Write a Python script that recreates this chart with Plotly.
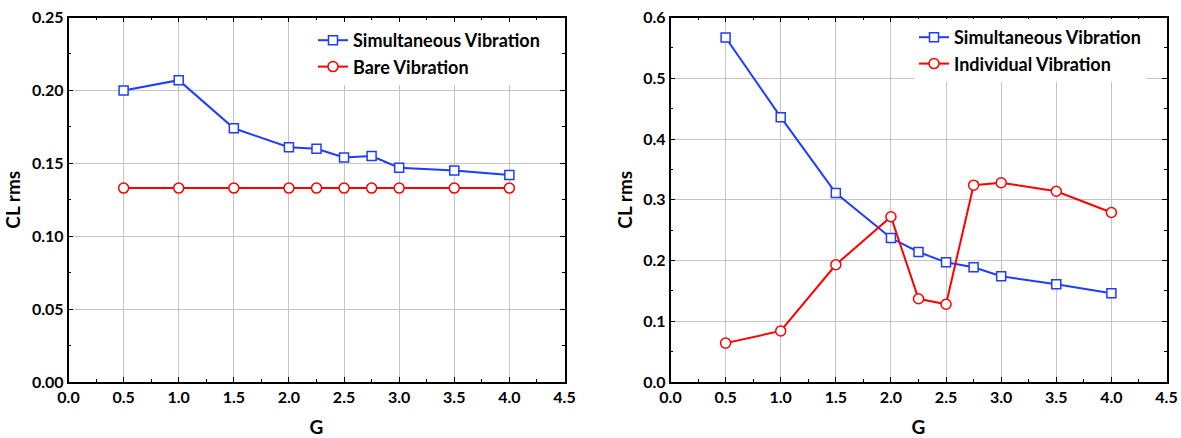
import plotly.graph_objects as go

# ---- data ----
g_values = [0.5, 1.0, 1.5, 2.0, 2.25, 2.5, 2.75, 3.0, 3.5, 4.0]

left_simultaneous = [0.200, 0.207, 0.174, 0.161, 0.160, 0.154, 0.155, 0.147, 0.145, 0.142]
left_bare = [0.133, 0.133, 0.133, 0.133, 0.133, 0.133, 0.133, 0.133, 0.133, 0.133]

right_simultaneous = [0.567, 0.436, 0.311, 0.237, 0.214, 0.197, 0.189, 0.174, 0.161, 0.146]
right_individual = [0.064, 0.084, 0.193, 0.272, 0.137, 0.128, 0.324, 0.328, 0.314, 0.279]

x_title = "G"
y_title = "CL rms"

BLUE = "#1f3cff"
RED = "#ff0000"
FONT = "Lato"
W, H = 1181, 438

fig = go.Figure()

def add_pair(x, ys, names, xa, ya, legend):
    blue, red = ys
    fig.add_trace(go.Scatter(
        x=x, y=blue, name=names[0], mode="lines+markers", xaxis=xa, yaxis=ya,
        legend=legend, legendgroup=legend + "a",
        line=dict(color=BLUE, width=2),
        marker=dict(symbol="square", size=9, color="white",
                    line=dict(color=BLUE, width=1.5))))
    fig.add_trace(go.Scatter(
        x=x, y=red, name=names[1], mode="lines+markers", xaxis=xa, yaxis=ya,
        legend=legend, legendgroup=legend + "b",
        line=dict(color=RED, width=2),
        marker=dict(symbol="circle", size=10, color="white",
                    line=dict(color=RED, width=1.5))))

add_pair(g_values, (left_simultaneous, left_bare),
         ("Simultaneous Vibration", "Bare Vibration"), "x", "y", "legend")
add_pair(g_values, (right_simultaneous, right_individual),
         ("Simultaneous Vibration", "Individual Vibration"), "x2", "y2", "legend2")

def px_x(p):
    return p / W

def px_y(p):
    return 1 - p / H

top, bottom = 17.5, 382
tickfont = dict(family=FONT, size=16, color="black", weight="bold")
titlefont = dict(family=FONT, size=19, color="black", weight="bold")

def xaxis(dom, anchor):
    return dict(domain=[px_x(dom[0]), px_x(dom[1])], anchor=anchor, automargin=False,
                range=[0, 4.5], dtick=0.5, tick0=0, tickformat=".1f",
                showline=True, linecolor="black", linewidth=1.5, mirror="ticks",
                ticks="inside", ticklen=5, tickwidth=1.2, tickcolor="black",
                minor=dict(dtick=0.25, ticks="inside", ticklen=3, tickcolor="black", showgrid=False),
                showgrid=True, gridcolor="#c4c4c4", gridwidth=1, zeroline=False,
                tickfont=tickfont, title=dict(text=x_title, font=titlefont, standoff=19))

def yaxis(rng, dtick, fmt, anchor):
    return dict(domain=[px_y(bottom), px_y(top)], anchor=anchor, automargin=False,
                range=rng, dtick=dtick, tick0=0, tickformat=fmt,
                showline=True, linecolor="black", linewidth=1.5, mirror="ticks",
                ticks="inside", ticklen=5, tickwidth=1.2, tickcolor="black",
                minor=dict(dtick=dtick / 2, ticks="inside", ticklen=3, tickcolor="black", showgrid=False),
                showgrid=True, gridcolor="#c4c4c4", gridwidth=1, zeroline=False,
                tickfont=tickfont, title=dict(text=y_title, font=titlefont, standoff=6))

legfont = dict(family=FONT, size=18, color="black", weight="bold")

fig.update_layout(
    width=W, height=H,
    margin=dict(l=0, r=0, t=0, b=0),
    paper_bgcolor="white", plot_bgcolor="white",
    xaxis=xaxis((68.5, 564.5), "y"),
    yaxis=yaxis([0, 0.25], 0.05, ".2f", "x"),
    xaxis2=xaxis((670.5, 1166.5), "y2"),
    yaxis2=yaxis([0, 0.6], 0.1, ".1f", "x2"),
    legend=dict(x=px_x(313), y=px_y(22), xanchor="left", yanchor="top",
                bgcolor="white", borderwidth=0, tracegroupgap=0,
                font=legfont),
    legend2=dict(x=px_x(914), y=px_y(19), xanchor="left", yanchor="top",
                 bgcolor="white", borderwidth=0, tracegroupgap=0,
                 font=legfont),
    showlegend=True,
)

fig.write_html("out.html")
